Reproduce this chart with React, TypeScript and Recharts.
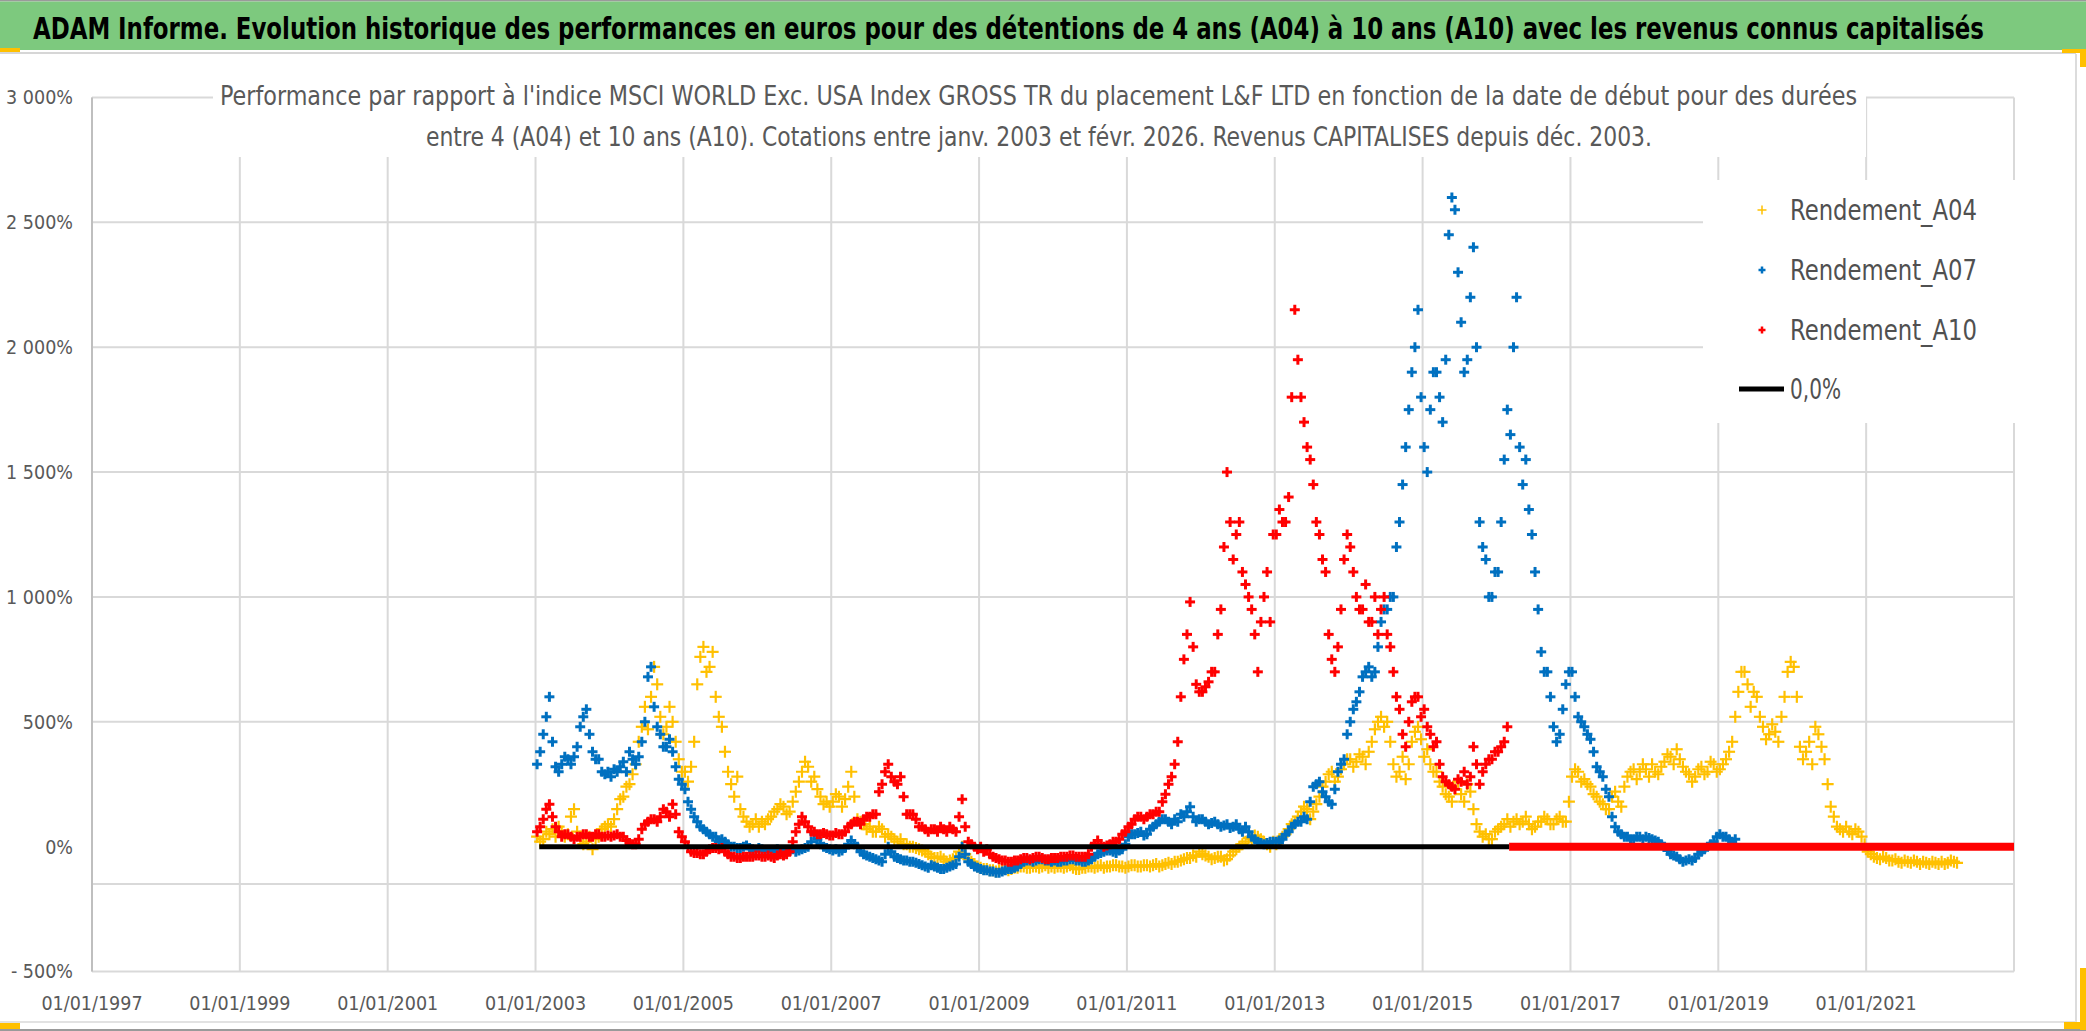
import React from "react";
import { ScatterChart, Scatter, XAxis, YAxis, CartesianGrid, Legend } from "recharts";

const FONT = "'DejaVu Sans Condensed', 'Liberation Sans Narrow', 'Liberation Sans', sans-serif";
const TEXT_GREY = "#595959";

const YELLOW = "#FFC000";
const BLUE = "#0070C0";
const RED = "#FF0000";

// x axis: decimal years, labels every two years
const yearTicks = [1997, 1999, 2001, 2003, 2005, 2007, 2009, 2011, 2013, 2015, 2017, 2019, 2021];
const valueTicks = [-500, 0, 500, 1000, 1500, 2000, 2500, 3000];
const gridValues = [-500, -150, 500, 1000, 1500, 2000, 2500, 3000];

// readings (%) twice a month: "early" = first half of the month, "late" = second half
const a04Start = 2003;
const a04Early = [
  40, 30, 50, 40, 60, 50, 150, 40, 20, -10, 40, 80,
  80, 150, 200, 250, 330, 480, 470, 720, 520, 480, 500, 350,
  300, 320, 650, 800, 720, 600, 480, 300, 200, 150, 100, 90,
  80, 90, 120, 150, 160, 140, 220, 300, 320, 280, 200, 180,
  180, 200, 190, 300, 110, 90, 80, 60, 70, 50, 30, 30,
  10, 0, -10, -20, -40, -45, -50, -55, -45, 0, -50, -70,
  -85, -90, -95, -95, -90, -90, -85, -80, -85, -80, -80, -85,
  -85, -80, -80, -85, -90, -85, -80, -80, -85, -80, -75, -80,
  -80, -75, -80, -75, -75, -80, -70, -70, -60, -50, -45, -40,
  -30, -40, -45, -40, -50, -20, 0, 20, 30, 40, 20, 0,
  10, 40, 70, 100, 140, 150, 140, 200, 260, 300, 280, 330,
  350, 340, 360, 380, 470, 520, 500, 330, 300, 270, 420, 480,
  360, 330, 300, 240, 200, 230, 210, 250, 150, 60, 50, 30,
  70, 90, 80, 110, 100, 90, 80, 100, 110, 90, 120, 100,
  280, 300, 270, 240, 200, 170, 150, 220, 160, 280, 310, 300,
  310, 330, 290, 340, 360, 390, 320, 290, 280, 320, 300, 330,
  310, 350, 420, 620, 700, 560, 600, 480, 450, 460, 520, 700,
  720, 400, 380, 330, 450, 350, 160, 80, 60, 60, 70, 40,
  -20, -40, -50, -45, -55, -60, -55, -65, -60, -60, -70, -65,
  -60, -65, -60,
];
const a04Late = [
  20, 60, 70, 80, 40, 120, 60, 10, 40, 30, 70, 90,
  110, 190, 240, 290, 420, 560, 600, 650, 450, 560, 420, 300,
  260, 420, 760, 700, 780, 520, 380, 250, 280, 120, 80, 110,
  100, 110, 140, 170, 130, 180, 260, 340, 260, 230, 170, 160,
  210, 160, 240, 200, 100, 70, 60, 80, 40, 40, 20, 10,
  0, -5, -15, -30, -45, -40, -60, -50, -20, -30, -60, -80,
  -90, -95, -100, -90, -95, -85, -80, -85, -80, -85, -75, -80,
  -80, -85, -75, -90, -85, -80, -85, -75, -80, -75, -80, -85,
  -75, -80, -75, -80, -70, -75, -65, -60, -55, -45, -35, -20,
  -35, -50, -40, -55, -35, -10, 10, 35, 45, 30, 10, 20,
  30, 50, 90, 120, 160, 110, 170, 240, 290, 260, 310, 350,
  320, 370, 330, 420, 500, 480, 420, 280, 360, 330, 460, 430,
  390, 300, 260, 210, 180, 260, 180, 220, 90, 40, 30, 60,
  80, 110, 100, 90, 120, 70, 100, 120, 90, 110, 100, 180,
  310, 260, 250, 210, 180, 150, 200, 180, 240, 300, 270, 330,
  280, 300, 320, 370, 330, 350, 300, 260, 310, 290, 340, 300,
  330, 380, 520, 700, 650, 620, 520, 430, 490, 420, 600, 740,
  600, 350, 420, 480, 400, 250, 120, 70, 80, 50, 60, 10,
  -30, -45, -40, -55, -50, -65, -60, -55, -70, -65, -60, -70,
  -70, -55, -65,
];

const a07Start = 2003;
const a07Early = [
  330, 450, 600, 320, 330, 350, 360, 480, 550, 380, 350, 290,
  280, 300, 340, 380, 330, 420, 680, 560, 450, 400, 380, 270,
  230, 150, 100, 70, 50, 40, 30, 10, 0, -5, 5, -10,
  -5, -15, -20, -10, -25, -15, -20, -10, 0, 50, 10, -5,
  -15, -20, -5, 25, 0, -30, -40, -50, -60, 0, -40, -50,
  -55, -60, -70, -80, -75, -85, -90, -80, -70, 0, -60, -80,
  -90, -95, -100, -105, -95, -90, -80, -60, -55, -55, -50, -55,
  -55, -60, -55, -50, -55, -60, -50, -30, -20, -15, -25, -10,
  40, 50, 60, 50, 80, 100, 110, 90, 100, 120, 160, 100,
  110, 90, 100, 80, 90, 80, 70, 80, 40, 20, 10, 20,
  20, 30, 60, 90, 100, 110, 240, 260, 200, 170, 300, 350,
  500, 580, 680, 720, 700, 900, 950, 1000, 1300, 1600, 1900, 2150,
  1600, 1750, 1900, 1700, 2450, 2550, 2100, 1950, 2400, 1300, 1150, 1000,
  1100, 1550, 1650, 2200, 1450, 1350, 1100, 780, 700, 480, 450, 650,
  700, 520, 480, 430, 320, 280, 200, 80, 50, 40, 30, 40,
  40, 30, 20, 0, -30, -40, -60, -50, -45, -20, 0, 20,
  50, 40, 20,
];
const a07Late = [
  380, 520, 420, 300, 360, 330, 400, 520, 450, 350, 300, 300,
  310, 320, 300, 350, 360, 500, 720, 480, 400, 430, 320, 250,
  180, 120, 80, 60, 40, 20, 20, 0, -5, 0, -5, -15,
  -10, -20, -15, -20, -20, -10, -15, -5, 20, 30, 0, -10,
  -10, -15, 10, 10, -20, -35, -45, -55, -30, -20, -45, -55,
  -60, -65, -75, -85, -80, -90, -85, -75, -40, -30, -70, -85,
  -95, -100, -105, -100, -90, -85, -70, -55, -60, -50, -55, -60,
  -60, -55, -50, -55, -60, -55, -40, -25, -15, -20, -15, 10,
  50, 55, 45, 70, 90, 110, 100, 110, 130, 140, 120, 110,
  100, 95, 90, 85, 75, 90, 60, 60, 30, 15, 15, 20,
  25, 50, 80, 100, 120, 180, 250, 220, 180, 230, 330, 450,
  550, 620, 700, 680, 800, 950, 1000, 1200, 1450, 1750, 2000, 1800,
  1500, 1900, 1800, 1950, 2600, 2300, 1900, 2200, 2000, 1200, 1000, 1100,
  1300, 1750, 2000, 1600, 1550, 1250, 950, 700, 600, 420, 550, 700,
  600, 500, 450, 380, 300, 230, 120, 60, 40, 30, 40, 30,
  35, 25, 10, -15, -35, -50, -55, -55, -30, -10, 10, 40,
  40, 30, 30,
];

const a10Start = 2003;
const a10Early = [
  60, 110, 170, 80, 40, 50, 30, 40, 50, 40, 50, 40,
  40, 50, 40, 15, 10, 70, 100, 110, 120, 140, 170, 60,
  20, -20, -25, -30, -10, -5, -5, -30, -40, -45, -40, -40,
  -35, -40, -40, -35, -35, -20, 60, 120, 80, 60, 50, 50,
  45, 50, 60, 90, 100, 110, 120, 130, 250, 330, 260, 280,
  130, 130, 80, 70, 70, 60, 70, 80, 60, 190, 20, 0,
  0, -10, -40, -50, -55, -60, -55, -45, -50, -40, -45, -50,
  -45, -40, -40, -35, -40, -40, 0, 25, 0, 10, 20, 50,
  80, 110, 120, 120, 130, 140, 210, 280, 420, 750, 980, 650,
  620, 660, 700, 950, 1500, 1150, 1300, 1050, 950, 700, 1000, 900,
  1250, 1300, 1400, 2150, 1800, 1600, 1450, 1250, 1100, 750, 800, 1150,
  1200, 1000, 950, 900, 1000, 950, 850, 700, 550, 400, 580, 600,
  550, 450, 420, 280, 250, 230, 260, 250, 400, 250, 330, 350,
  380, 420,
];
const a10Late = [
  80, 150, 120, 60, 50, 40, 40, 50, 40, 50, 40, 45,
  45, 40, 25, 10, 30, 90, 110, 100, 150, 120, 130, 40,
  0, -25, -30, -20, -5, -10, -20, -40, -45, -40, -40, -35,
  -40, -35, -45, -30, -30, 20, 90, 100, 60, 50, 55, 45,
  55, 50, 80, 100, 90, 120, 130, 220, 300, 280, 250, 200,
  130, 110, 80, 60, 70, 80, 60, 70, 120, 80, 10, -10,
  -20, -30, -45, -55, -60, -55, -50, -45, -45, -40, -50, -45,
  -45, -40, -35, -40, -40, -30, 10, 10, 5, 20, 30, 60,
  90, 120, 110, 130, 140, 180, 250, 330, 600, 850, 800, 620,
  640, 700, 850, 1200, 1300, 1250, 1100, 1000, 850, 900, 1100, 1250,
  1350, 1300, 1800, 1950, 1700, 1550, 1300, 1150, 850, 700, 950, 1250,
  1100, 950, 1050, 900, 850, 1000, 800, 600, 450, 500, 600, 520,
  480, 400, 330, 260, 240, 270, 300, 280, 330, 300, 350, 380,
  400, 480,
];

// flat segments: A10 after its last computed value, and the 0,0% reference series
const a10FlatSpan = [2016.17, 2023.0];
const zeroSpan = [2003.05, 2016.17];

const toPoints = (start: number, early: number[], late: number[]) => [
  ...early.map((v, i) => ({ x: start + (i + 0.25) / 12, y: v })),
  ...late.map((v, i) => ({ x: start + (i + 0.75) / 12, y: v })),
];
const spanPoints = (span: number[]) => span.map((x) => ({ x, y: 0 }));

const formatPct = (v: number) => {
  if (v === 0) return "0%";
  if (v < 0) return `- ${Math.abs(v)}%`;
  if (v >= 1000) return `${Math.floor(v / 1000)} ${String(v % 1000).padStart(3, "0")}%`;
  return `${v}%`;
};

const plus = (color: string, half: number, width: number) => (props: any) => {
  const { cx, cy } = props;
  return (
    <g>
      <line x1={cx - half} y1={cy} x2={cx + half} y2={cy} stroke={color} strokeWidth={width} />
      <line x1={cx} y1={cy - half} x2={cx} y2={cy + half} stroke={color} strokeWidth={width} />
    </g>
  );
};

const legendRows = [
  { name: "Rendement_A04", color: YELLOW, half: 4.5, width: 1.5 },
  { name: "Rendement_A07", color: BLUE, half: 3.5, width: 2.5 },
  { name: "Rendement_A10", color: RED, half: 3.5, width: 2.5 },
];

const LegendBox = () => (
  <svg width={312} height={243} style={{ display: "block" }}>
    {legendRows.map((r, i) => {
      const y = 30 + i * 60;
      return (
        <g key={r.name}>
          <line x1={59 - r.half} y1={y} x2={59 + r.half} y2={y} stroke={r.color} strokeWidth={r.width} />
          <line x1={59} y1={y - r.half} x2={59} y2={y + r.half} stroke={r.color} strokeWidth={r.width} />
          <text
            transform={`translate(87,${y + 10}) scale(1,1.08)`}
            fontFamily={FONT}
            fontSize={26}
            fill="#505050"
            textLength={187}
            lengthAdjust="spacingAndGlyphs"
          >
            {r.name}
          </text>
        </g>
      );
    })}
    <line x1={36} y1={209} x2={81} y2={209} stroke="#000" strokeWidth={5} />
    <text
      transform="translate(87,219) scale(1,1.08)"
      fontFamily={FONT}
      fontSize={26}
      fill="#505050"
      textLength={51}
      lengthAdjust="spacingAndGlyphs"
    >
      0,0%
    </text>
  </svg>
);

const Overlay = () => (
  <svg width={2086} height={1031} style={{ position: "absolute", left: 0, top: 0, pointerEvents: "none" }}>
    <rect x={0} y={0} width={2086} height={1.5} fill="#9A9A9A" />
    <rect x={0} y={1.5} width={2086} height={48.5} fill="#7DC97E" />
    <rect x={0} y={52} width={2076} height={2} fill="#D6D6D6" />
    <text
      transform="translate(33,39) scale(1,1.18)"
      fontFamily={FONT}
      fontWeight="bold"
      fontSize={25}
      fill="#000"
      textLength={1951}
      lengthAdjust="spacingAndGlyphs"
    >
      ADAM Informe. Evolution historique des performances en euros pour des détentions de 4 ans (A04) à 10 ans (A10) avec les revenus connus capitalisés
    </text>
    <rect x={213} y={70} width={1653} height={87} fill="#fff" />
    <text
      transform="translate(220,105) scale(1,1.12)"
      fontFamily={FONT}
      fontSize={23}
      fill={TEXT_GREY}
      textLength={1637}
      lengthAdjust="spacingAndGlyphs"
    >
      Performance par rapport à l'indice MSCI WORLD Exc. USA Index GROSS TR  du placement L&amp;F LTD en fonction de la date de début pour des durées
    </text>
    <text
      transform="translate(426,145.5) scale(1,1.12)"
      fontFamily={FONT}
      fontSize={23}
      fill={TEXT_GREY}
      textLength={1226}
      lengthAdjust="spacingAndGlyphs"
    >
      entre 4 (A04) et 10 ans (A10). Cotations entre janv. 2003 et févr. 2026. Revenus CAPITALISES depuis déc. 2003.
    </text>
    <rect x={2075} y={54} width={2} height={968} fill="#DCDCDC" />
    <rect x={0} y={1021} width={2076} height={2} fill="#E2E2E2" />
    <rect x={0} y={1029} width={2086} height={2} fill="#9A9A9A" />
    <rect x={0} y={48} width={20} height={4} fill={YELLOW} />
    <rect x={2062} y={49} width={24} height={4} fill={YELLOW} />
    <rect x={2080} y={49} width={6} height={18} fill={YELLOW} />
    <rect x={2080} y={968} width={6} height={62} fill={YELLOW} />
    <rect x={2064} y={1022} width={22} height={7} fill={YELLOW} />
    <rect x={0} y={1023} width={20} height={6} fill={YELLOW} />
  </svg>
);

const tickStyle = { fill: TEXT_GREY, fontSize: 19.5, fontFamily: FONT };

export default function App() {
  return (
    <div style={{ position: "absolute", left: 0, top: 0, width: 2086, height: 1031, background: "#fff", overflow: "hidden" }}>
      <ScatterChart width={2086} height={1031} margin={{ top: 97.5, right: 72, bottom: 19.5, left: 12 }}>
        <CartesianGrid stroke="#D9D9D9" strokeWidth={2} horizontalValues={gridValues} />
        <XAxis
          type="number"
          dataKey="x"
          domain={[1997, 2023]}
          ticks={yearTicks}
          tickFormatter={(v: number) => `01/01/${v}`}
          axisLine={false}
          tickLine={false}
          tickSize={0}
          tickMargin={25}
          height={40}
          interval={0}
          allowDataOverflow
          tick={tickStyle}
        />
        <YAxis
          type="number"
          dataKey="y"
          domain={[-500, 3000]}
          ticks={valueTicks}
          tickFormatter={formatPct}
          axisLine={{ stroke: "#BFBFBF", strokeWidth: 2 }}
          tickLine={false}
          tickSize={0}
          tickMargin={19}
          width={80}
          interval={0}
          allowDataOverflow
          tick={tickStyle}
        />
        <Scatter name="Rendement_A04" data={toPoints(a04Start, a04Early, a04Late)} shape={plus(YELLOW, 6, 2.2)} isAnimationActive={false} />
        <Scatter name="Rendement_A07" data={toPoints(a07Start, a07Early, a07Late)} shape={plus(BLUE, 5, 3)} isAnimationActive={false} />
        <Scatter name="Rendement_A10" data={toPoints(a10Start, a10Early, a10Late)} shape={plus(RED, 5, 3)} isAnimationActive={false} />
        <Scatter
          name="Rendement_A10 flat"
          data={spanPoints(a10FlatSpan)}
          line={{ stroke: RED, strokeWidth: 8 }}
          shape={() => <g />}
          legendType="none"
          isAnimationActive={false}
        />
        <Scatter
          name="0,0%"
          data={spanPoints(zeroSpan)}
          line={{ stroke: "#000", strokeWidth: 5 }}
          shape={() => <g />}
          legendType="line"
          isAnimationActive={false}
        />
        <Legend
          layout="vertical"
          align="center"
          verticalAlign="middle"
          content={() => <LegendBox />}
          wrapperStyle={{ left: 1703, top: 180, width: 312, height: 243, background: "#fff" }}
        />
      </ScatterChart>
      <Overlay />
    </div>
  );
}
